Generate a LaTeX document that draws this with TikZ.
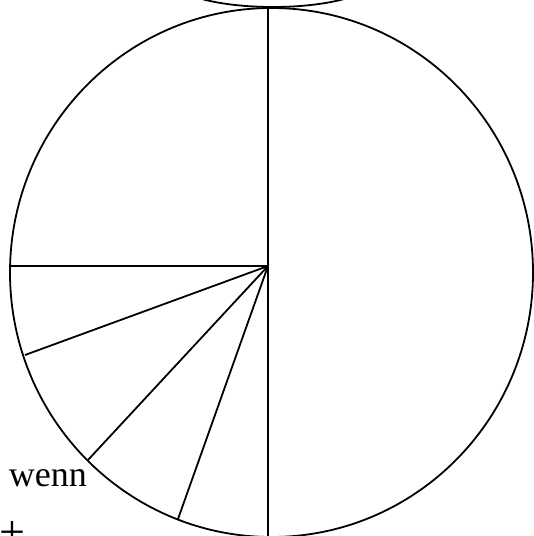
\documentclass[tikz,border=0pt]{standalone}
\usepackage{fontspec}
\setmainfont{Liberation Serif}
\usetikzlibrary{positioning}
\begin{document}
\begin{tikzpicture}[x=0.5pt, y=-0.5pt, line width=0.9pt,
    lbl/.style={inner sep=0pt, font=\fontsize{18}{20}\selectfont}]
    \useasboundingbox (0,0) rectangle (534,536);
    % Big circle and the ellipse cut off at the top
    \draw (271.5,272.5) ellipse [x radius=261.5, y radius=264.5];
    \draw (273,-20) ellipse [x radius=100, y radius=27];

    % Spokes from the hub
    \coordinate (hub) at (268,266);
    \foreach \x/\y [count=\i] in {268/8, 11/266, 25/355, 88/460, 178/519, 268/537} {
        \coordinate (s\i) at (\x,\y);
        \draw (hub) -- (s\i);
    }

    \node[lbl, anchor=base west] (wenn) at (8,486) {wenn};
    \node[lbl, font=\fontsize{23}{26}\selectfont, anchor=base] (plus) at (12,547) {+};
\end{tikzpicture}
\end{document}
